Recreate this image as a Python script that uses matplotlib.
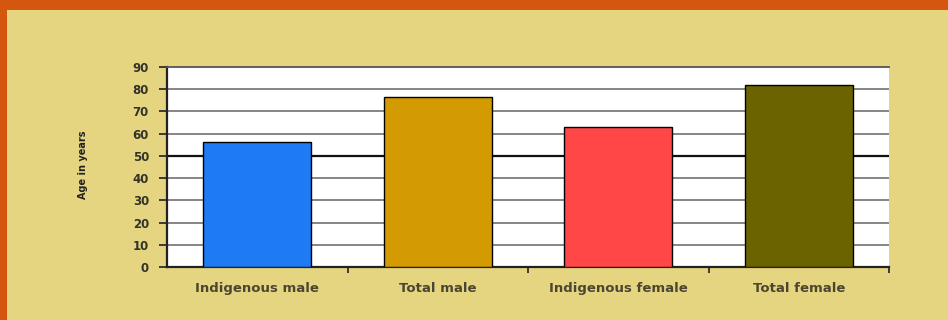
import matplotlib
matplotlib.use('Agg')
import matplotlib.pyplot as plt
from matplotlib.patches import Rectangle

# life expectancy at birth, years
categories = ['Indigenous male', 'Total male', 'Indigenous female', 'Total female']
ages = [56.3, 76.6, 62.8, 82.0]
bar_colors = ['#1F7BF4', '#D49A02', '#FF4747', '#6B6300']
y_ticks = [0, 10, 20, 30, 40, 50, 60, 70, 80, 90]

BG = '#E6D580'
BORDER = '#D4560F'
TEXT = '#3C3A28'

fig = plt.figure(figsize=(9.48, 3.2), dpi=100, facecolor=BG)

# orange frame along the top and left edges
fig.patches.append(Rectangle((0, 0), 7 / 948, 1, transform=fig.transFigure,
                             facecolor=BORDER, edgecolor='none', zorder=0))
fig.patches.append(Rectangle((0, 1 - 10 / 320), 1, 10 / 320, transform=fig.transFigure,
                             facecolor=BORDER, edgecolor='none', zorder=0))

ax = fig.add_axes([167 / 948, 1 - 267 / 320, 722 / 948, 200 / 320])
ax.set_facecolor('white')

x = list(range(len(categories)))
ax.bar(x, ages, width=0.6, color=bar_colors, edgecolor='black', linewidth=1.0, zorder=3)

ax.set_xlim(-0.5, len(categories) - 0.5)
ax.set_ylim(0, 90)

# horizontal grid, the 50 line drawn heavier
for v in y_ticks[1:-1]:
    if v == 50:
        ax.axhline(v, color='#111111', linewidth=1.6, zorder=1)
    else:
        ax.axhline(v, color='#7C7C7C', linewidth=1.3, zorder=1)

ax.set_yticks(y_ticks)
ax.set_yticklabels([str(v) for v in y_ticks], fontsize=8.5, fontweight='bold', color='#333328',
                   family='DejaVu Sans')
ax.tick_params(axis='y', direction='out', length=6, width=1.2, color='#222222', pad=7)

ax.set_xticks(x)
ax.set_xticklabels(categories, fontsize=9.5, fontweight='bold', color='#4A4632',
                   family='DejaVu Sans')
ax.tick_params(axis='x', which='major', length=0, pad=11)
ax.set_xticks([i + 0.5 for i in x], minor=True)
ax.tick_params(axis='x', which='minor', direction='out', length=4, width=1.2, color='#222222')

ax.spines['right'].set_visible(False)
ax.spines['top'].set_color('#555555')
ax.spines['top'].set_linewidth(1.3)
ax.spines['left'].set_color('#222222')
ax.spines['left'].set_linewidth(1.6)
ax.spines['bottom'].set_color('#222222')
ax.spines['bottom'].set_linewidth(1.6)

fig.text(83 / 948, 1 - 165 / 320, 'Age in years', rotation=90, ha='center', va='center',
         fontsize=7, fontweight='bold', color='#222222', family='DejaVu Sans')

fig.savefig('out.png', dpi=100, facecolor=BG)
